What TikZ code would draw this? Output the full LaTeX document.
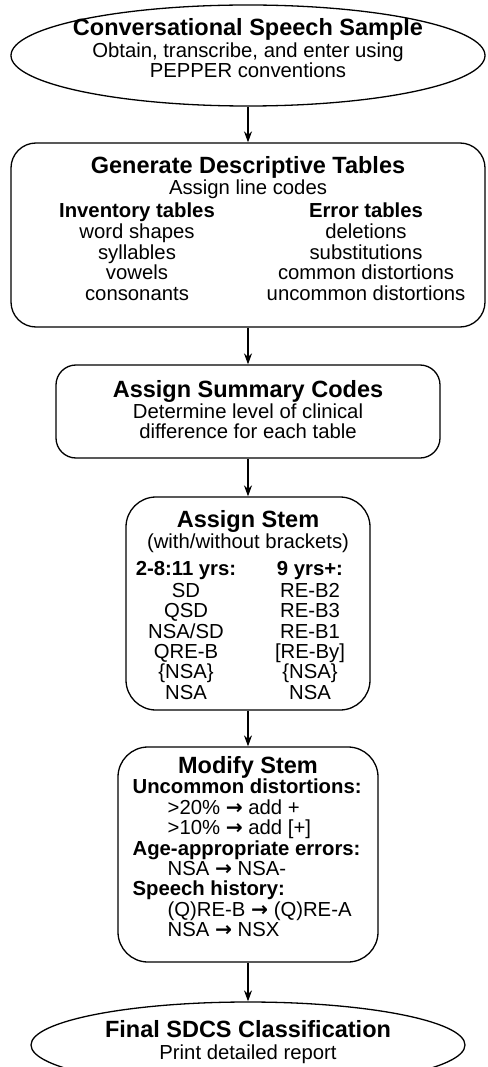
\documentclass[tikz,border=0pt]{standalone}
\usepackage{fontspec}
\setmainfont{Liberation Sans}
\newfontfamily\arrowfont{DejaVu Sans}
\usetikzlibrary{shapes.geometric,arrows.meta}

\begin{document}
\begin{tikzpicture}[x=1pt, y=-1pt, line width=1.3pt,
    box/.style={draw, rectangle, inner sep=0pt},
    oval/.style={draw, ellipse, inner sep=0pt},
    txt/.style={font=\fontsize{20.3}{20.4}\selectfont, inner sep=0pt, align=center},
    flow/.style={-{Stealth[length=11pt,width=8pt]}}]

\path[fill=white, use as bounding box] (0,0) rectangle (487,1067);

\newcommand\headfont{\fontsize{23.5}{22}\selectfont\bfseries}
\newcommand\goesto{{\arrowfont\bfseries →}}

% the six steps, top to bottom
\node[oval, minimum width=474pt, minimum height=101pt] (sample) at (248,55.5) {};
\node[box, rounded corners=25pt, minimum width=474pt, minimum height=184pt] (tables) at (248,235) {};
\node[box, rounded corners=20pt, minimum width=384pt, minimum height=93pt] (summary) at (248,411.5) {};
\node[box, rounded corners=30pt, minimum width=244pt, minimum height=213pt] (stem) at (248,603.5) {};
\node[box, rounded corners=30pt, minimum width=260pt, minimum height=215pt] (modify) at (248,854.5) {};
\node[oval, minimum width=434pt, minimum height=86pt] (final) at (248,1045) {};

\draw[flow] (sample) -- (tables);
\draw[flow] (tables) -- (summary);
\draw[flow] (summary) -- (stem);
\draw[flow] (stem) -- (modify);
\draw[flow] (modify) -- (final);

% texts
\node[txt, anchor=north] (sampleT) at (248,18) {{\headfont Conversational Speech Sample}\\[1.5pt]
    Obtain, transcribe, and enter using\\ PEPPER conventions};

\node[txt, anchor=north] (tablesT) at (248,156) {{\headfont Generate Descriptive Tables}\\ Assign line codes};
\node[txt, anchor=north] (inventory) at (137,202.5) {\textbf{Inventory tables}\\[0.6pt]
    word shapes\\ syllables\\ vowels\\ consonants};
\node[txt, anchor=north] (errors) at (366,202.5) {\textbf{Error tables}\\[0.6pt]
    deletions\\ substitutions\\ common distortions\\ uncommon distortions};

\node[txt, anchor=north] (summaryT) at (248,380) {{\headfont Assign Summary Codes}\\[0.5pt]
    Determine level of clinical\\ difference for each table};

\node[txt, anchor=north] (stemT) at (248,510) {{\headfont Assign Stem}\\ (with/without brackets)};
\node[txt, anchor=north] (younger) at (186,560.5) {\textbf{2-8:11 yrs:}\\[1.5pt]
    SD\\ QSD\\ NSA/SD\\ QRE-B\\ \{NSA\}\\ NSA};
\node[txt, anchor=north] (older) at (310,560.5) {\textbf{9 yrs+:}\\[1.5pt]
    RE-B2\\ RE-B3\\ RE-B1\\{}[RE-By]\\ \{NSA\}\\ NSA};

\node[txt, anchor=north] (modifyT) at (248,756) {\headfont Modify Stem};
\node[txt, anchor=north west, align=left] (rules) at (132,778.5) {\textbf{Uncommon distortions:}\\
    \hspace*{35pt}>20\% \goesto{} add +\\
    \hspace*{35pt}>10\% \goesto{} add [+]\\
    \textbf{Age-appropriate errors:}\\
    \hspace*{35pt}NSA \goesto{} NSA-\\
    \textbf{Speech history:}\\
    \hspace*{35pt}(Q)RE-B \goesto{} (Q)RE-A\\
    \hspace*{35pt}NSA \goesto{} NSX};

\node[txt, anchor=north] (finalT) at (248,1020) {{\headfont Final SDCS Classification}\\[1.5pt]
    Print detailed report};

\end{tikzpicture}
\end{document}
